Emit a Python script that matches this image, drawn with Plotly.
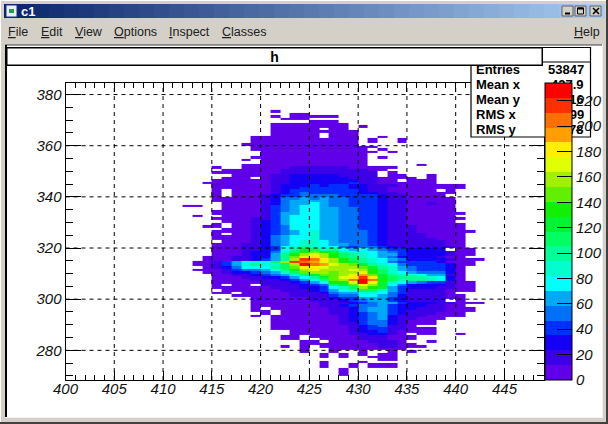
import plotly.graph_objects as go

W, H = 608, 424

# Histogram: one string per y bin, one character per x bin starting at x = 412.
# '.' is an empty bin, 0-9 and a-j name the colour band of the bin.
FIRST_X = 412
N_X = 33
ROWS = {
    373: ".........0",
    372: "...........00",
    371: ".........0.00000",
    370: "..........000",
    369: ".............000",
    368: ".........00000000",
    367: ".........00000000.0",
    366: ".........00000.00",
    365: ".........000000000",
    364: ".........00000.000",
    363: ".......0000000.000..0",
    362: ".......00000000000.0..0",
    361: ".......00000000000.0..0",
    360: "......000000000000",
    359: ".......0000000000000",
    358: ".......000000000000.0",
    357: "........000000000000.0",
    356: "........00000000000",
    355: ".......000000000000.0",
    354: "......0.00000000000",
    353: "........00000000000",
    352: "......0000000000000.....0",
    351: "...0..0000011111100000",
    350: "....00000011111111100",
    349: "...00000001111111111.0",
    348: ".....000011222221111.00..0",
    347: "....000.0112222221110000.0",
    346: "...0000001122222221100.000",
    345: "..000000011222222311000000",
    344: "...00000012223233221110000000",
    343: "...00000012233333221100000000",
    342: "...0.000012333333321100000.0",
    341: "...0.00001234333332211000000",
    340: "...0.0001233444433332110000",
    339: "...0000012445454433321100000",
    338: "...0000012455554433321100000",
    337: "....000012455654433321100100",
    336: "00..000013456654433321100000",
    335: "....000013456655443321100000",
    334: "...0000013456655443321100000",
    333: "...00000135566554433211000000",
    332: ".0..000013566655443321100000",
    331: "...000011356665544332110000 00".replace(" ", ""),
    330: "....000123566655443321100000",
    329: "...0.00123566655443321100000 0".replace(" ", ""),
    328: "..00.00123466655443321110000 0".replace(" ", ""),
    327: "....000123466655443321110000 0".replace(" ", ""),
    326: "...00001234567554443211100 0000".replace(" ", ""),
    325: "...0.00123456755444321111000 0".replace(" ", ""),
    324: "...00001245667554443211110000",
    323: "...00001245667554443211111000",
    322: "....0001245677654443211111100",
    321: "...00011245677655443211111100",
    320: "...00011236787664344321111110",
    319: "...000112368a978656543322 22.00".replace(" ", ""),
    318: "...00012247 9bcba87765432222100".replace(" ", ""),
    317: "...00012258bdedb98765532222100",
    316: "..0001122 58cefd b98765422 22100".replace(" ", ""),
    315: "..000112358dihfdb9876542222 1000".replace(" ", ""),
    314: ".00135676 9dihgedba876433332000".replace(" ", ""),
    313: ".0013578 779djhgedca8764333 3200".replace(" ", ""),
    312: "..0124666 89cffedddca87543332 0".replace(" ", ""),
    311: ".000134456 8adedddedb9754333 20".replace(" ", ""),
    310: "..001223457 9cddcddeb97654442 0".replace(" ", ""),
    309: "...00112345 79acc degca877655 10".replace(" ", ""),
    308: "...000112235 68acefifa98887 620".replace(" ", ""),
    307: "...0000111235 68cdhjhb97887 620".replace(" ", ""),
    306: "...0000011123 56bbejea76543 3100".replace(" ", ""),
    305: "...0.00.11112 349acfda642222 100".replace(" ", ""),
    304: "...000000111223 679dba5322 21100".replace(" ", ""),
    303: "....00000011123 567997531111 000".replace(" ", ""),
    302: "...00.0000011124 5577643111 10".replace(" ", ""),
    301: ".....000000111134 466542111 100".replace(" ", ""),
    300: ".......000000112 3355532111 100".replace(" ", ""),
    299: ".......000000111 2345532111 1.0".replace(" ", ""),
    298: ".......0000000111 234553222 11000".replace(" ", ""),
    297: ".......0000000112 344532221 100".replace(" ", ""),
    296: ".......0.00000011 245532211 1000".replace(" ", ""),
    295: ".......00.0000011 245532111 1000".replace(" ", ""),
    294: "........0.0000011 234532111 000".replace(" ", ""),
    293: ".......0.00000001 2345211100 00".replace(" ", ""),
    292: ".........00000001 2345211000".replace(" ", ""),
    291: ".........00000001 234421000".replace(" ", ""),
    290: ".........00000001 134421000".replace(" ", ""),
    289: ".........000000001 234110".replace(" ", ""),
    288: ".........000000001 233110 00".replace(" ", ""),
    287: "...........00000012 2310000".replace(" ", ""),
    286: "...........00000011 221 0.00..0".replace(" ", ""),
    285: "..........00.000001 1100 0".replace(" ", ""),
    284: "..........00..00001 1100 0".replace(" ", ""),
    283: "............00.0000 111 0..0".replace(" ", ""),
    282: "............000000001100",
    281: "..........0.0.00000011 000".replace(" ", ""),
    280: "............0..00000000",
    279: "............0..0..0..0.0",
    278: "..............0.0.0.00",
    277: "..............0.0..000",
    276: "....................00",
    275: "..............0...0",
    274: "..............0..0.000",
    271: "................0",
}

# Count of a bin in each colour band, from the lowest band to the highest.
BAND_COUNTS = [6, 18, 29, 41, 53, 64, 76, 88, 99, 111, 123, 135, 146, 158, 170, 181, 193, 205, 216, 228]
BAND_CODES = "0123456789abcdefghij"
BAND_COLORS = ["#6000e8", "#3c00e8", "#1400f4", "#0030ff", "#0070f8", "#00a8f8", "#00ffff", "#00ffcc",
               "#00ff99", "#00ff60", "#00f430", "#10f000", "#60f000", "#a0f000", "#e0ff00", "#ffee00",
               "#ffa000", "#ff7000", "#ff3000", "#ff0000"]
Z_MAX = 234

X_TICKS = [400, 405, 410, 415, 420, 425, 430, 435, 440, 445]
Y_TICKS = [280, 300, 320, 340, 360, 380]
Z_TICKS = [0, 20, 40, 60, 80, 100, 120, 140, 160, 180, 200, 220]
X_RANGE = [400, 449]
Y_RANGE = [268.4, 384.4]

MENU_LEFT = [("<u>F</u>ile", 6), ("<u>E</u>dit", 39), ("<u>V</u>iew", 73),
             ("<u>O</u>ptions", 112), ("<u>I</u>nspect", 167), ("<u>C</u>lasses", 220),
             ("<u>H</u>elp", 572)]
STAT_NAMES = ["Entries", "Mean x", "Mean y", "RMS x", "RMS y"]
STAT_VALUES = ["53847", "427.9", "316", "6.99", "18.78"]
STAT_ROWS_PX = [69, 84, 99.5, 114, 129]

ys = sorted(ROWS)
x_centers = [FIRST_X + i + 0.5 for i in range(N_X)]
y_centers = [y + 0.5 for y in ys]
z = []
for y in ys:
    row = ROWS[y].ljust(N_X, ".")[:N_X]
    z.append([None if c == "." else BAND_COUNTS[BAND_CODES.index(c)] for c in row])

scale = []
for i, col in enumerate(BAND_COLORS):
    scale.append([i / 20, col])
    scale.append([(i + 1) / 20, col])


def px(v):
    return v / W


def py(v):
    return 1 - v / H


def rect(x0, y0, x1, y1, fill, line=None, lw=1, layer="below"):
    return dict(type="rect", xref="paper", yref="paper", layer=layer, x0=px(x0), x1=px(x1), y0=py(y0), y1=py(y1),
                fillcolor=fill, line=dict(color=line or fill, width=lw if line else 0))


def seg(x0, y0, x1, y1, color, lw=1, layer="below"):
    return dict(type="line", xref="paper", yref="paper", layer=layer, x0=px(x0), x1=px(x1), y0=py(y0), y1=py(y1),
                line=dict(color=color, width=lw))


def mix(a, b, t):
    return "rgb(%d,%d,%d)" % tuple(round(a[i] + (b[i] - a[i]) * t) for i in range(3))


shapes = []
# canvas
shapes.append(rect(5, 45, 602, 417, "white"))
shapes.append(seg(5, 45, 602, 45, "#404040", 1))
shapes.append(seg(6, 45, 6, 417, "#000000", 2))
shapes.append(seg(602.5, 44, 602.5, 418, "#f0f0f0", 1))
shapes.append(seg(5, 417.5, 603, 417.5, "#f0f0f0", 1))
# outer window edge
shapes.append(seg(0.5, 0, 0.5, 424, "#ffffff", 1))
shapes.append(seg(0, 0.5, 608, 0.5, "#ffffff", 1))
shapes.append(seg(607, 0, 607, 424, "#404040", 2))
shapes.append(seg(0, 423, 608, 423, "#404040", 2))
# title bar gradient
N_GRAD = 40
for i in range(N_GRAD):
    t = i / (N_GRAD - 1)
    x0 = 4 + i * 600 / N_GRAD
    shapes.append(rect(x0, 4, x0 + 600 / N_GRAD + 0.5, 18, mix((10, 36, 106), (166, 202, 240), t)))
# window icon
shapes.append(rect(6, 5, 17, 17, "#e8eef8", "#203080", 1))
shapes.append(rect(9, 9, 14, 13, "#20a040"))
# window buttons
for x0 in (562, 575, 590):
    shapes.append(rect(x0, 6, x0 + 11, 16, "#d4d0c8", "#606060", 1))
shapes.append(seg(565, 13.5, 570, 13.5, "#000000", 2))
shapes.append(rect(577.5, 8, 583.5, 14, "rgba(0,0,0,0)", "#000000", 1))
shapes.append(seg(577.5, 8.5, 583.5, 8.5, "#000000", 2))
shapes.append(seg(593, 8, 599, 14, "#000000", 1.6))
shapes.append(seg(599, 8, 593, 14, "#000000", 1.6))
# grid lines drawn over the histogram
for t in X_TICKS:
    shapes.append(dict(type="line", xref="x", yref="paper", layer="above", x0=t, x1=t,
                       y0=py(380), y1=py(83.3), line=dict(color="black", width=1, dash="4px,4px")))
for t in Y_TICKS:
    shapes.append(dict(type="line", xref="paper", yref="y", layer="above", x0=px(65.5), x1=px(543.5),
                       y0=t, y1=t, line=dict(color="black", width=1, dash="4px,4px")))
# statistics box, above the axes
shapes.append(rect(471, 47.5, 590.5, 137, "white", "black", 1.2, layer="above"))
shapes.append(seg(471, 62, 590.5, 62, "black", 1, layer="above"))

annotations = [dict(text="<b>c1</b>", x=px(19), y=py(11.5), xref="paper", yref="paper", xanchor="left",
                    yanchor="middle", showarrow=False, font=dict(family="Liberation Sans", size=13, color="white"))]
for label, left in MENU_LEFT:
    annotations.append(dict(text=label, x=px(left), y=py(32.5), xref="paper", yref="paper", xanchor="left",
                            yanchor="middle", showarrow=False,
                            font=dict(family="Liberation Sans", size=12.5, color="#202020")))
for name, value, row in zip(STAT_NAMES, STAT_VALUES, STAT_ROWS_PX):
    annotations.append(dict(text="<b>%s</b>" % name, x=px(474), y=py(row), xref="paper", yref="paper",
                            xanchor="left", yanchor="middle", showarrow=False,
                            font=dict(family="Liberation Sans", size=13, color="black")))
    annotations.append(dict(text="<b>%s</b>" % value, x=px(586), y=py(row), xref="paper", yref="paper",
                            xanchor="right", yanchor="middle", showarrow=False,
                            font=dict(family="Liberation Sans", size=13, color="black")))
# title box is drawn last so it covers the top of the statistics box
annotations.append(dict(text="<b>h</b>", x=px(6), y=py(47), xref="paper", yref="paper", xanchor="left",
                        yanchor="top", showarrow=False, width=534, height=16, align="center", valign="middle",
                        bgcolor="white", bordercolor="black", borderwidth=1.5, borderpad=0,
                        font=dict(family="Liberation Sans", size=14, color="black")))

tick_font = dict(family="Liberation Sans", size=15, color="#111111", style="italic")

fig = go.Figure(go.Heatmap(
    x=x_centers, y=y_centers, z=z, zmin=0, zmax=Z_MAX, colorscale=scale, hoverongaps=False,
    colorbar=dict(
        x=px(545), xanchor="left", xpad=0, xref="paper",
        y=py(380), yanchor="bottom", ypad=0, yref="paper",
        thickness=27, thicknessmode="pixels", len=297, lenmode="pixels",
        tickmode="array", tickvals=Z_TICKS, ticks="inside", ticklen=15, tickwidth=1, tickcolor="black",
        tickfont=tick_font, outlinecolor="black", outlinewidth=1, bgcolor="rgba(0,0,0,0)",
    ),
))

axis_common = dict(showline=True, linecolor="black", linewidth=1, mirror="allticks", ticks="inside",
                   tickcolor="black", tickwidth=1, showgrid=False, zeroline=False, tickfont=tick_font)
fig.update_layout(
    width=W, height=H, autosize=False,
    margin=dict(l=0, r=0, t=0, b=0, pad=0, autoexpand=False),
    paper_bgcolor="#d4d0c8", plot_bgcolor="white", showlegend=False,
    xaxis=dict(domain=[px(65.5), px(543.5)], range=X_RANGE, tickmode="array", tickvals=X_TICKS, ticklen=9,
               ticklabelstandoff=-5,
               minor=dict(ticks="inside", ticklen=5, dtick=1, tick0=400, tickcolor="black", tickwidth=1, showgrid=False),
               **axis_common),
    yaxis=dict(domain=[py(380), py(83.3)], range=Y_RANGE, tickmode="array", tickvals=Y_TICKS, ticklen=15,
               minor=dict(ticks="inside", ticklen=7, dtick=5, tick0=280, tickcolor="black", tickwidth=1, showgrid=False),
               **axis_common),
    shapes=shapes, annotations=annotations,
)

post = """
document.documentElement.style.overflow = 'hidden';
document.body.style.margin = '0';
document.body.style.overflow = 'hidden';
var gd = document.getElementById('{plot_id}');
function raiseBar() {
  var il = gd.querySelector('.infolayer');
  if (!il) return;
  il.querySelectorAll('.colorbar').forEach(function (c) { il.appendChild(c); });
}
raiseBar();
setTimeout(raiseBar, 50);
setTimeout(raiseBar, 300);
"""
fig.write_html("out.html", config=dict(displayModeBar=False), post_script=post)
